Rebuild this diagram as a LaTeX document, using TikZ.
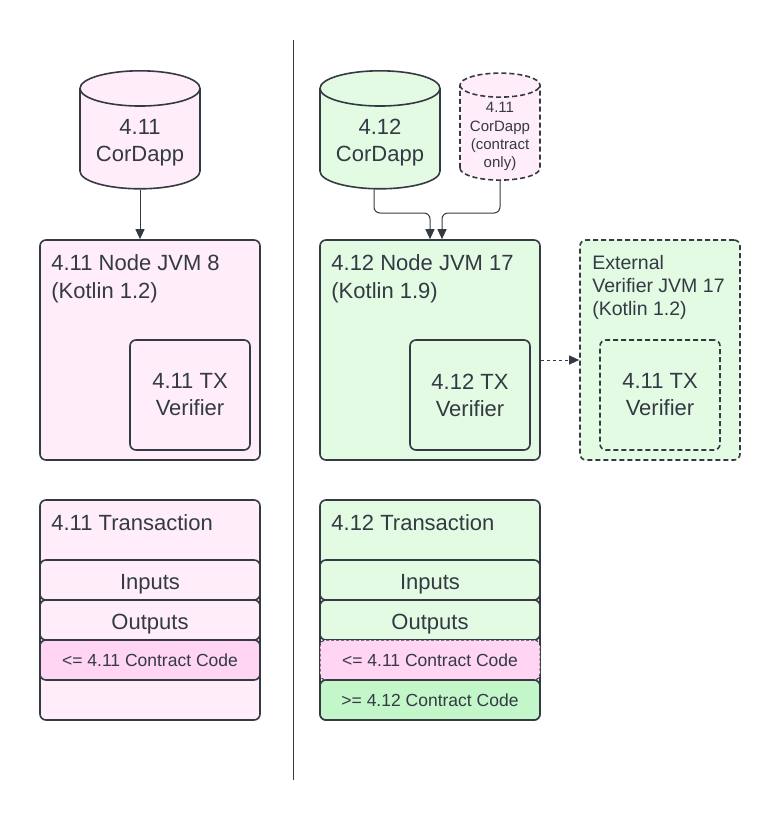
\documentclass[tikz,border=0pt]{standalone}
\usepackage{fontspec}
\setmainfont{Liberation Sans}
\usetikzlibrary{positioning,shapes.geometric,arrows.meta}
\definecolor{ink}{HTML}{333A44}
\definecolor{pinkfill}{HTML}{FFEEFA}
\definecolor{pinkcode}{HTML}{FFD5F3}
\definecolor{greenfill}{HTML}{E3FAE3}
\definecolor{greencode}{HTML}{C3F7C9}

\begin{document}
\begin{tikzpicture}[%
        x=1pt,y=-1pt,
        >={Triangle[length=10pt,width=9pt]},
        %>=stealth,
        every node/.style={text=ink},
        big/.style={font=\fontsize{22}{27}\selectfont},
        box/.style={%
          rectangle,
          draw=ink,
          line width=1.6pt,
          rounded corners=6pt,
          inner sep=0pt
        },
        outer/.style={box,minimum width=220pt,minimum height=220pt},
        verifier/.style={box,big,align=center,minimum width=120pt,minimum height=110pt},
        row/.style={box,big,minimum width=220pt,minimum height=40pt,text height=19pt,text depth=0pt},
        coderow/.style={row,font=\fontsize{17.5}{21}\selectfont,text height=12.5pt},
        title/.style={big,align=left,inner sep=0pt},
        app/.style={%
          cylinder,
          shape border rotate=90,
          aspect=0.4,
          draw=ink,
          line width=1.6pt,
          big,
          align=center,
          inner sep=0pt,
          text height=45pt,
          text depth=0pt,
          minimum width=120pt,
          minimum height=118pt
        },
        ext/.style={dash pattern=on 5pt off 3pt},
        link/.style={->,draw=ink,line width=1pt,rounded corners=6pt}
      ]
      \useasboundingbox (0,0) rectangle (780,820);

      % divider
      \draw[ink,line width=0.8pt] (293,40) -- (293,780);

      % 4.11 side
      \node[app,fill=pinkfill] (appA) at (140,139) {4.11\\CorDapp};
      \node[outer,fill=pinkfill] (jvmA) at (150,350) {};
      \node[title,below right=15pt and 12pt of jvmA.north west,
        font=\fontsize{22}{28}\selectfont] (jvmAtitle) {4.11 Node JVM 8\\(Kotlin 1.2)};
      \node[verifier,fill=pinkfill] (verA) at (190,395) {4.11 TX\\Verifier};
      \draw[link] (appA.south) -- (appA.south |- jvmA.north);

      \node[outer,fill=pinkfill] (txA) at (150,610) {};
      \node[title,below right=15pt and 12pt of txA.north west] (txAtitle) {4.11 Transaction};
      \node[row,fill=pinkfill] (inA) at (150,580) {Inputs};
      \node[row,fill=pinkfill] (outA) at (150,620) {Outputs};
      \node[coderow,fill=pinkcode] (codeA) at (150,660) {<= 4.11 Contract Code};

      % 4.12 side
      \node[app,fill=greenfill] (appB) at (380,139) {4.12\\CorDapp};
      \node[app,ext,fill=pinkfill,minimum width=80pt,minimum height=107pt,text height=69.5pt,
        font=\fontsize{15}{18.3}\selectfont] (appOld) at (500,133) {4.11\\CorDapp\\(contract\\only)};
      \node[outer,fill=greenfill] (jvmB) at (430,350) {};
      \node[title,below right=15pt and 12pt of jvmB.north west,
        font=\fontsize{22}{28}\selectfont] (jvmBtitle) {4.12 Node JVM 17\\(Kotlin 1.9)};
      \node[verifier,fill=greenfill] (verB) at (470,395) {4.12 TX\\Verifier};
      \coordinate (merge) at (0,213);
      \draw[link] ([xshift=-6pt]appB.south) -- ([xshift=-6pt]appB.south |- merge) -| (jvmB.north);
      \draw[link] (appOld.south) -- (appOld.south |- merge) -| ([xshift=12pt]jvmB.north);

      \node[outer,ext,fill=greenfill,minimum width=160pt] (extJvm) at (660,350) {};
      \node[title,below right=16pt and 13pt of extJvm.north west,
        font=\fontsize{19.5}{23}\selectfont] (extTitle) {External\\Verifier JVM 17\\(Kotlin 1.2)};
      \node[verifier,ext,fill=greenfill] (verExt) at (660,395) {4.11 TX\\Verifier};
      \draw[link,dashed] ([yshift=-10pt]jvmB.east) -- ([yshift=-10pt]extJvm.west);

      \node[outer,fill=greenfill] (txB) at (430,610) {};
      \node[title,below right=15pt and 12pt of txB.north west] (txBtitle) {4.12 Transaction};
      \node[row,fill=greenfill] (inB) at (430,580) {Inputs};
      \node[row,fill=greenfill] (outB) at (430,620) {Outputs};
      \node[coderow,fill=pinkcode,line width=1pt,dash pattern=on 3pt off 2pt] (codeOld) at (430,660) {<= 4.11 Contract Code};
      \node[coderow,fill=greencode] (codeNew) at (430,700) {>= 4.12 Contract Code};
    \end{tikzpicture}
\end{document}
